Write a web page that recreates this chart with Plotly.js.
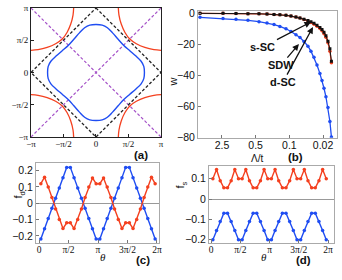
<!DOCTYPE html>
<html><head><meta charset="utf-8">
<script src="https://cdn.plot.ly/plotly-3.0.1.min.js"></script>
<style>html,body{margin:0;padding:0;background:#fff}#chart{width:342px;height:280px}</style>
</head><body><div id="chart"></div>
<script>
// ---------- Panel (a): Fermi surfaces ----------
const fsBlueKx = [2.34,2.31,2.18,1.93,1.62,1.33,1.07,0.8,0.55,0.3,0,-0.3,-0.55,-0.8,-1.07,-1.33,-1.62,-1.93,-2.18,-2.31,-2.34,-2.31,-2.18,-1.93,-1.62,-1.33,-1.07,-0.8,-0.55,-0.3,0,0.3,0.55,0.8,1.07,1.33,1.62,1.93,2.18,2.31,2.34];
const fsBlueKy = [0,0.3,0.55,0.8,1.07,1.33,1.62,1.93,2.18,2.31,2.34,2.31,2.18,1.93,1.62,1.33,1.07,0.8,0.55,0.3,0,-0.3,-0.55,-0.8,-1.07,-1.33,-1.62,-1.93,-2.18,-2.31,-2.34,-2.31,-2.18,-1.93,-1.62,-1.33,-1.07,-0.8,-0.55,-0.3,0];
const fsRedKx = [-3.1416,-2.8,-2.36,-1.95,-1.63,-1.4,-1.22,-1.11,-1.08,null,
                 3.1416,2.8,2.36,1.95,1.63,1.4,1.22,1.11,1.08,null,
                 -3.1416,-2.8,-2.36,-1.95,-1.63,-1.4,-1.22,-1.11,-1.08,null,
                 3.1416,2.8,2.36,1.95,1.63,1.4,1.22,1.11,1.08];
const fsRedKy = [1.08,1.11,1.22,1.4,1.63,1.95,2.36,2.8,3.1416,null,
                 1.08,1.11,1.22,1.4,1.63,1.95,2.36,2.8,3.1416,null,
                 -1.08,-1.11,-1.22,-1.4,-1.63,-1.95,-2.36,-2.8,-3.1416,null,
                 -1.08,-1.11,-1.22,-1.4,-1.63,-1.95,-2.36,-2.8,-3.1416];
const diamondKx = [0,3.1416,0,-3.1416,0];
const diamondKy = [3.1416,0,-3.1416,0,3.1416];
const diagKx = [-3.1416,3.1416,null,-3.1416,3.1416];
const diagKy = [-3.1416,3.1416,null,3.1416,-3.1416];
const kTickText = ['−π','−π/2','0','π/2','π'];

// ---------- Panel (b): RG flow ----------
const lambdaT = [7.14,2.38,1.28,0.723,0.427,0.291,0.208,0.157,0.1175,0.0925,0.0729,0.0602,0.0497,0.0411,0.0356,0.0308,0.0267,0.0232,0.0210,0.0191,0.0174,0.0158,0.0144,0.0134];
const wSDW = [-2.6,-3.3,-3.8,-4.5,-5.4,-6.2,-7.3,-8.5,-10.0,-11.8,-13.8,-15.7,-18.2,-21.3,-24.5,-28.5,-33.5,-39,-43.5,-48.5,-54,-61,-70,-80];
const wSSC = [0,0,-0.1,-0.2,-0.3,-0.5,-0.7,-0.9,-1.3,-1.8,-2.4,-3.0,-3.8,-4.7,-5.5,-6.5,-7.7,-9.2,-10.5,-12.3,-14.5,-18,-23,-31];
const wDSC = [0,0,-0.1,-0.2,-0.3,-0.5,-0.7,-0.9,-1.3,-1.8,-2.4,-3.1,-4.0,-5.0,-5.9,-7.0,-8.3,-9.9,-11.3,-13.2,-15.5,-19,-24.5,-32];
const lambdaTickVals = [2.5,0.5,0.1,0.02];
const lambdaTickText = ['2.5','0.5','0.1','0.02'];

// ---------- Panels (c), (d): form factors ----------
const theta = [0.098,0.295,0.491,0.687,0.884,1.080,1.276,1.473,1.669,1.866,2.062,2.258,2.454,2.651,2.847,3.043,3.240,3.436,3.632,3.829,4.025,4.221,4.418,4.614,4.811,5.007,5.203,5.400,5.596,5.792,5.989,6.185];
const fdBlue = [-0.22,-0.157,-0.094,-0.031,0.031,0.094,0.157,0.22,0.22,0.157,0.094,0.031,-0.031,-0.094,-0.157,-0.22,-0.22,-0.157,-0.094,-0.031,0.031,0.094,0.157,0.22,0.22,0.157,0.094,0.031,-0.031,-0.094,-0.157,-0.22];
const fdRed = [0.12,0.16,0.10,0.035,-0.035,-0.10,-0.155,-0.12,-0.12,-0.155,-0.10,-0.035,0.035,0.10,0.155,0.12,0.12,0.155,0.10,0.035,-0.035,-0.10,-0.155,-0.12,-0.12,-0.155,-0.10,-0.035,0.035,0.10,0.16,0.12];
const fsBlue = [-0.2,-0.155,-0.11,-0.07,-0.07,-0.11,-0.155,-0.2,-0.2,-0.155,-0.11,-0.07,-0.07,-0.11,-0.155,-0.2,-0.2,-0.155,-0.11,-0.07,-0.07,-0.11,-0.155,-0.2,-0.2,-0.155,-0.11,-0.07,-0.07,-0.11,-0.155,-0.2];
const fsRed = [0.1,0.145,0.09,0.055,0.055,0.09,0.145,0.1,0.1,0.145,0.09,0.055,0.055,0.09,0.145,0.1,0.1,0.145,0.09,0.055,0.055,0.09,0.145,0.1,0.1,0.145,0.09,0.055,0.055,0.09,0.145,0.1];
const thetaTickText = ['0','π/2','π','3π/2','2π'];

const RED = '#f4401f', BLUE = '#1f4df2', PURPLE = '#a552c8';
const SANS = 'Liberation Sans, Arial, sans-serif';
const SERIF = 'Liberation Serif, Times New Roman, serif';
const P = Math.PI;

const traces = [
  {x: diagKx, y: diagKy, xaxis:'x', yaxis:'y', mode:'lines', line:{color:PURPLE, width:1.2, dash:'3px,2px'}},
  {x: diamondKx, y: diamondKy, xaxis:'x', yaxis:'y', mode:'lines', line:{color:'#222', width:1.3, dash:'3px,2px'}},
  {x: fsRedKx, y: fsRedKy, xaxis:'x', yaxis:'y', mode:'lines', line:{color:RED, width:1.3, shape:'spline', smoothing:1}, connectgaps:false},
  {x: fsBlueKx, y: fsBlueKy, xaxis:'x', yaxis:'y', mode:'lines', line:{color:BLUE, width:1.4, shape:'spline', smoothing:1}},

  {x: lambdaT, y: wSDW, xaxis:'x2', yaxis:'y2', mode:'lines+markers', line:{color:BLUE, width:1.3}, marker:{color:BLUE, size:3.5}},
  {x: lambdaT, y: wDSC, xaxis:'x2', yaxis:'y2', mode:'lines+markers', line:{color:RED, width:1.3}, marker:{color:RED, size:3.5}},
  {x: lambdaT, y: wSSC, xaxis:'x2', yaxis:'y2', mode:'lines+markers', line:{color:'#111', width:1}, marker:{color:'#111', size:3, symbol:'square'}},

  {x: theta, y: fdBlue, xaxis:'x3', yaxis:'y3', mode:'lines+markers', line:{color:BLUE, width:1.4}, marker:{color:BLUE, size:3.5}},
  {x: theta, y: fdRed, xaxis:'x3', yaxis:'y3', mode:'lines+markers', line:{color:RED, width:1.4}, marker:{color:RED, size:3.5}},

  {x: theta, y: fsBlue, xaxis:'x4', yaxis:'y4', mode:'lines+markers', line:{color:BLUE, width:1.4}, marker:{color:BLUE, size:3.5}},
  {x: theta, y: fsRed, xaxis:'x4', yaxis:'y4', mode:'lines+markers', line:{color:RED, width:1.4}, marker:{color:RED, size:3.5}}
];

const frameGray = '#aaa';
const base = {showgrid:false, zeroline:false, showline:true, mirror:true, ticks:'inside', ticklen:3, fixedrange:true};

const layout = {
  width:342, height:280, margin:{l:0,r:0,t:0,b:0}, showlegend:false,
  paper_bgcolor:'#fff', plot_bgcolor:'#fff',
  font:{family:SANS, color:'#111', size:10},
  xaxis: Object.assign({}, base, {domain:[0.0906,0.4708], range:[-P,P], anchor:'y', linecolor:'#222', tickcolor:'#222',
    tickvals:[-P,-P/2,0,P/2,P], ticktext:kTickText, tickfont:{family:SERIF, size:9}, ticklabelstandoff:-2}),
  yaxis: Object.assign({}, base, {domain:[0.5107,0.9714], range:[-P,P], anchor:'x', linecolor:'#222', tickcolor:'#222',
    tickvals:[-P,-P/2,0,P/2,P], ticktext:kTickText, tickfont:{family:SERIF, size:9}}),
  xaxis2: Object.assign({}, base, {domain:[0.5789,0.9854], type:'log', range:[0.896,-1.989], anchor:'y2', linecolor:frameGray, tickcolor:'#777',
    tickvals:lambdaTickVals, ticktext:lambdaTickText, tickfont:{size:10.5}, ticklabelstandoff:-2}),
  yaxis2: Object.assign({}, base, {domain:[0.5082,0.9607], range:[-80.5,1.5], anchor:'x2', linecolor:frameGray, tickcolor:'#777',
    tickvals:[0,-20,-40,-60,-80], tickfont:{size:10.5}}),
  xaxis3: Object.assign({}, base, {domain:[0.1053,0.4649], range:[-0.16,6.39], anchor:'y3', linecolor:frameGray, tickcolor:'#777',
    tickvals:[0,P/2,P,3*P/2,2*P], ticktext:thetaTickText, tickfont:{family:SERIF, size:9.5}, ticklabelstandoff:-2}),
  yaxis3: Object.assign({}, base, {domain:[0.1321,0.4179], range:[-0.244,0.247], anchor:'x3', linecolor:frameGray, tickcolor:'#777',
    tickvals:[0.2,0.1,0,-0.1,-0.2], tickfont:{size:10.5}, zeroline:true, zerolinecolor:'#999', zerolinewidth:1}),
  xaxis4: Object.assign({}, base, {domain:[0.6111,0.9766], range:[-0.11,6.6], anchor:'y4', linecolor:frameGray, tickcolor:'#777',
    tickvals:[0,P/2,P,3*P/2,2*P], ticktext:thetaTickText, tickfont:{family:SERIF, size:9.5}, ticklabelstandoff:-2}),
  yaxis4: Object.assign({}, base, {domain:[0.1321,0.4071], range:[-0.216,0.162], anchor:'x4', linecolor:frameGray, tickcolor:'#777',
    tickvals:[0.1,0,-0.1,-0.2], tickfont:{size:10.5}, zeroline:true, zerolinecolor:'#999', zerolinewidth:1}),
  annotations: [
    {xref:'paper', yref:'paper', x:0.4123, y:0.4464, text:'<b>(a)</b>', showarrow:false, font:{size:11.5}},
    {xref:'paper', yref:'paper', x:0.8918, y:0.4393, text:'<b>(b)</b>', showarrow:false, font:{size:11.5}},
    {xref:'paper', yref:'paper', x:0.4181, y:0.0429, text:'<b>(c)</b>', showarrow:false, font:{size:11.5}},
    {xref:'paper', yref:'paper', x:0.9152, y:0.0429, text:'<b>(d)</b>', showarrow:false, font:{size:11.5}},
    {xref:'paper', yref:'paper', x:0.7749, y:0.4357, text:'Λ/t', showarrow:false, font:{size:10}},
    {xref:'paper', yref:'paper', x:0.2865, y:0.0536, text:'<i>θ</i>', showarrow:false, font:{family:SERIF, size:11}},
    {xref:'paper', yref:'paper', x:0.7865, y:0.0536, text:'<i>θ</i>', showarrow:false, font:{family:SERIF, size:11}},
    {xref:'paper', yref:'paper', x:0.5058, y:0.7321, text:'w', showarrow:false, textangle:-90, font:{size:11}},
    {xref:'paper', yref:'paper', x:0.0292, y:0.2857, text:'f<sub>d</sub>', showarrow:false, textangle:-90, font:{size:11}},
    {xref:'paper', yref:'paper', x:0.5292, y:0.3214, text:'f<sub>s</sub>', showarrow:false, textangle:-90, font:{size:11}},
    {xref:'x2', yref:'y2', x:-1.449, y:-5.6, ax:-48, ay:25, text:'<b>s-SC</b>', showarrow:true, arrowhead:2, arrowsize:1, arrowwidth:1.3, arrowcolor:'#111', font:{size:11}},
    {xref:'x2', yref:'y2', x:-1.199, y:-19.9, ax:-18, ay:21, text:'<b>SDW</b>', showarrow:true, arrowhead:2, arrowsize:1, arrowwidth:1.3, arrowcolor:'#111', font:{size:11}},
    {xref:'x2', yref:'y2', x:-1.490, y:-8.9, ax:-30, ay:55, text:'<b>d-SC</b>', showarrow:true, arrowhead:2, arrowsize:1, arrowwidth:1.3, arrowcolor:'#111', font:{size:11}}
  ]
};

Plotly.newPlot('chart', traces, layout, {staticPlot:true, displayModeBar:false});
</script>
</body></html>
